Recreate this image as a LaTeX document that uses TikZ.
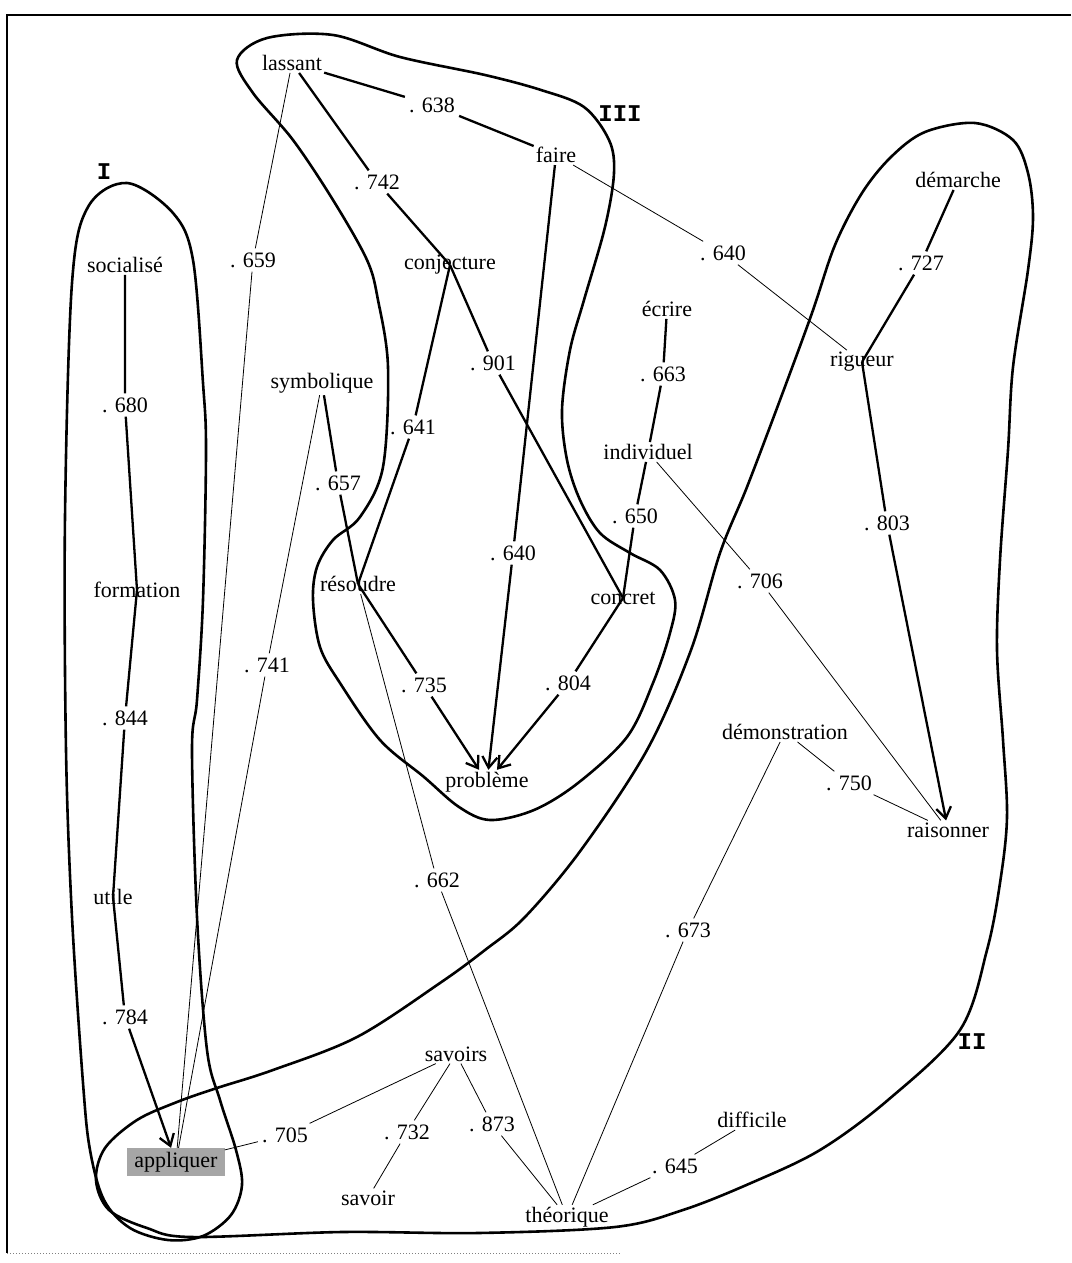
\documentclass[tikz,border=0pt]{standalone}
\usepackage{fontspec}
\setmainfont{Liberation Serif}
\newfontfamily\romanfont{Liberation Mono}
\usetikzlibrary{arrows.meta}
\begin{document}
\begin{tikzpicture}[x=1pt,y=-1pt,
  every node/.style={font=\fontsize{22}{26}\selectfont},
  word/.style={inner sep=2pt},
  val/.style={inner sep=4pt},
  numeral/.style={font=\fontsize{24}{26}\selectfont\romanfont\bfseries, inner sep=0pt},
  heavy/.style={line width=2.3pt},
  light/.style={line width=0.8pt},
  hull/.style={line width=2.6pt, line join=round},
  arr/.style={-{Straight Barb[length=11pt,width=15pt]}},
]
\useasboundingbox (0,0) rectangle (1071,1263);
% frame
\draw[line width=1.6pt] (1071,15) -- (7,15) -- (7,1253);
\draw[gray, dotted, line width=1pt] (7,1253) -- (620,1253);

% hulls
\draw[hull] plot[smooth cycle, tension=0.55] coordinates {
 (127,183) (173,213) (193,260) (203,383) (206,450) (203,600) (197,700) (192,750)
 (197,917) (207,1050) (220,1100) (236,1150) (242,1185) (231,1215) (203,1236)
 (168,1240) (130,1228) (104,1200) (90,1150) (83,1083) (72,917) (66,750) (65,517)
 (72,283) (88,207)};
\draw[hull] plot[smooth cycle, tension=0.55] coordinates {
 (267,38) (333,35) (400,57) (485,75) (541,90) (584,107) (609,140) (614,173)
 (605,227) (584,300) (570,350) (562,410) (567,460) (580,500) (600,533) (630,553)
 (660,570) (675,600) (670,633) (653,683) (627,737) (578,783) (534,810) (490,820)
 (459,807) (424,777) (380,740) (340,683) (320,647) (313,600) (317,567) (333,540)
 (360,517) (383,467) (388,367) (378,300) (367,260) (333,200) (293,140) (253,93)
 (237,60)};
\draw[hull] plot[smooth cycle, tension=0.55] coordinates {
 (975,123) (1013,140) (1028,173) (1033,217) (1028,270) (1013,367) (1008,450)
 (1000,560) (997,650) (1003,740) (1007,817) (1000,883) (987,950) (960,1030)
 (888,1100) (820,1150) (751,1183) (683,1210) (615,1227) (478,1233) (342,1232)
 (191,1237) (147,1228) (109,1210) (96,1180) (105,1148) (137,1120) (177,1102)
 (217,1088) (273,1070) (357,1037) (440,983) (485,950) (525,917) (581,850)
 (647,750) (691,650) (720,553) (747,487) (780,400) (812,313) (835,245)
 (862,193) (891,157) (925,132)};

% roman numerals
\node[numeral] (numI) at (104,172) {I};
\node[numeral] (numIII) at (620,114) {III};
\node[numeral] (numII) at (972,1042) {II};

% words
\node[word] (lassant) at (292,63) {lassant};
\node[word] (faire) at (556,155) {faire};
\node[word] (demarche) at (958,180) {démarche};
\node[word] (socialise) at (125,265) {socialisé};
\node[word] (conjecture) at (450,265) {conjecture};
\node[word] (ecrire) at (667,309) {écrire};
\node[word] (rigueur) at (862,362) {rigueur};
\node[word] (symbolique) at (322,383) {symbolique};
\node[word] (individuel) at (648,452) {individuel};
\node[word] (formation) at (137,590) {formation};
\node[word] (resoudre) at (358,584) {résoudre};
\node[word] (concret) at (623,598) {concret};
\node[word] (probleme) at (487,782) {problème};
\node[word] (demonstration) at (785,732) {démonstration};
\node[word] (raisonner) at (948,830) {raisonner};
\node[word] (utile) at (113,897) {utile};
\node[word] (savoirs) at (456,1054) {savoirs};
\node[word] (difficile) at (752,1120) {difficile};
\node[word, fill=black!35, inner xsep=7pt, inner ysep=4pt] (appliquer) at (176,1162) {appliquer};
\node[word] (savoir) at (368,1198) {savoir};
\node[word] (theorique) at (567,1217) {théorique};

% values
\node[val] (l638) at (432,105) {. 638};
\node[val] (l742) at (377,182) {. 742};
\node[val] (l659) at (253,260) {. 659};
\node[val] (l640a) at (723,253) {. 640};
\node[val] (l727) at (921,263) {. 727};
\node[val] (l901) at (493,363) {. 901};
\node[val] (l663) at (663,374) {. 663};
\node[val] (l680) at (125,405) {. 680};
\node[val] (l641) at (413,427) {. 641};
\node[val] (l657) at (338,483) {. 657};
\node[val] (l650) at (635,516) {. 650};
\node[val] (l803) at (887,523) {. 803};
\node[val] (l640b) at (513,553) {. 640};
\node[val] (l706) at (760,581) {. 706};
\node[val] (l741) at (267,665) {. 741};
\node[val] (l735) at (424,685) {. 735};
\node[val] (l804) at (568,683) {. 804};
\node[val] (l844) at (125,718) {. 844};
\node[val] (l750) at (849,783) {. 750};
\node[val] (l662) at (437,880) {. 662};
\node[val] (l673) at (688,930) {. 673};
\node[val] (l784) at (125,1017) {. 784};
\node[val] (l705) at (285,1135) {. 705};
\node[val] (l732) at (407,1132) {. 732};
\node[val] (l873) at (492,1124) {. 873};
\node[val] (l645) at (675,1166) {. 645};

% heavy connectors
\draw[heavy] (lassant) -- (l638) -- (faire);
\draw[heavy] (lassant) -- (l742) -- (conjecture.center);
\draw[heavy] (conjecture.center) -- (l901) -- (concret.center);
\draw[heavy] (conjecture.center) -- (l641) -- (resoudre.center);
\draw[heavy] (symbolique) -- (l657) -- (resoudre.center);
\draw[heavy, arr] (resoudre.center) -- (l735) -- (probleme);
\draw[heavy, arr] (faire) -- (l640b) -- (probleme);
\draw[heavy] (ecrire) -- (l663) -- (individuel);
\draw[heavy] (individuel) -- (l650) -- (concret.center);
\draw[heavy, arr] (concret.center) -- (l804) -- (probleme);
\draw[heavy] (demarche) -- (l727) -- (rigueur.center);
\draw[heavy, arr] (rigueur.center) -- (l803) -- (raisonner);
\draw[heavy] (socialise) -- (l680) -- (formation.center);
\draw[heavy] (formation.center) -- (l844) -- (utile.center);
\draw[heavy, arr] (utile.center) -- (l784) -- (appliquer);

% light connectors
\draw[light] (lassant) -- (l659) -- (appliquer);
\draw[light] (faire) -- (l640a) -- (rigueur);
\draw[light] (symbolique) -- (l741) -- (appliquer);
\draw[light] (individuel) -- (l706) -- (raisonner);
\draw[light] (demonstration) -- (l750) -- (raisonner);
\draw[light] (demonstration) -- (l673) -- (theorique);
\draw[light] (resoudre) -- (l662) -- (theorique);
\draw[light] (savoirs) -- (l705) -- (appliquer);
\draw[light] (savoirs) -- (l732) -- (savoir);
\draw[light] (savoirs) -- (l873) -- (theorique);
\draw[light] (difficile) -- (l645) -- (theorique);
\end{tikzpicture}
\end{document}
